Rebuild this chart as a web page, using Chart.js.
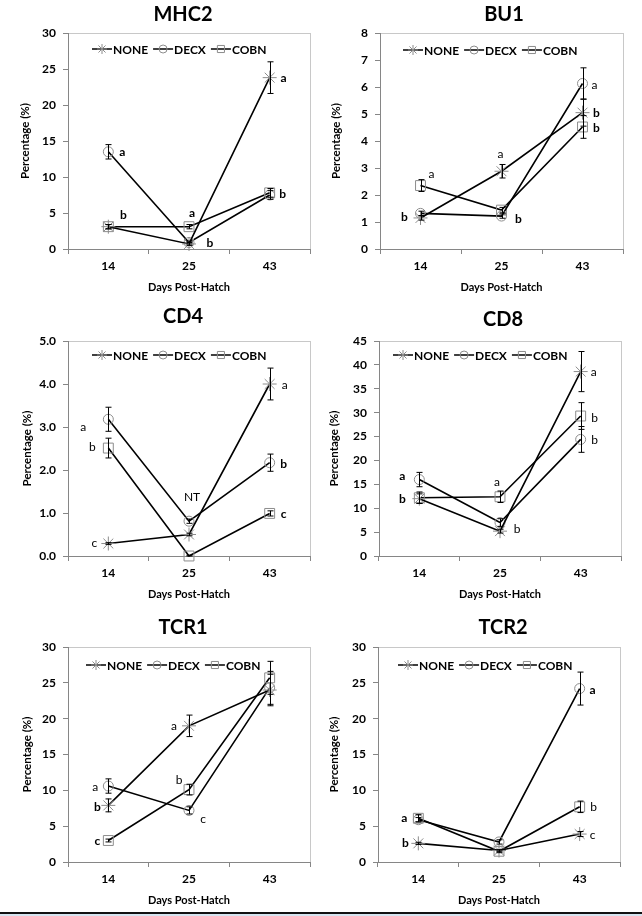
<!DOCTYPE html>
<html>
<head>
<meta charset="utf-8">
<title>Lymphocyte subsets by days post-hatch</title>
<script src="https://cdn.jsdelivr.net/npm/chart.js@4.4.1/dist/chart.umd.min.js"></script>
<style>
  body { margin: 0; background: #fff; }
  #page { position: relative; width: 642px; height: 916px; overflow: hidden; }
  #page canvas { position: absolute; }
  #rule { position: absolute; left: 0; top: 912px; width: 642px; height: 2px; background: #111; }
  #under { position: absolute; left: 0; top: 914px; width: 642px; height: 2px; background: #d6e4f0; }
</style>
</head>
<body>
<div id="page">
  <canvas id="mhc2" width="321" height="300" style="left:0;top:0"></canvas>
  <canvas id="bu1" width="321" height="300" style="left:321px;top:0"></canvas>
  <canvas id="cd4" width="321" height="300" style="left:0;top:300px"></canvas>
  <canvas id="cd8" width="321" height="300" style="left:321px;top:300px"></canvas>
  <canvas id="tcr1" width="321" height="316" style="left:0;top:600px"></canvas>
  <canvas id="tcr2" width="321" height="316" style="left:321px;top:600px"></canvas>
  <div id="rule"></div>
  <div id="under"></div>
</div>
<script>
var days = ['14', '25', '43'];
var groups = ['NONE', 'DECX', 'COBN'];

// values and error bars, one row per group (NONE, DECX, COBN)
var mhc2Values = [[3.1, 0.7, 23.8], [13.5, 0.9, 7.5], [3.1, 3.1, 7.8]];
var mhc2Errors = [[0.3, 0.2, 2.2], [1.0, 0.2, 0.6], [0.3, 0.3, 0.6]];
var bu1Values = [[1.15, 2.88, 5.05], [1.32, 1.22, 6.13], [2.35, 1.44, 4.52]];
var bu1Errors = [[0.08, 0.25, 0.5], [0.08, 0.08, 0.58], [0.22, 0.1, 0.42]];
var cd4Values = [[0.29, 0.5, 4.0], [3.18, 0.81, 2.17], [2.51, 0.0, 0.99]];
var cd4Errors = [[0.02, 0.03, 0.37], [0.28, 0.05, 0.2], [0.23, 0.02, 0.06]];
var cd8Values = [[12.0, 5.2, 38.6], [16.0, 7.0, 24.4], [12.2, 12.4, 29.3]];
var cd8Errors = [[1.0, 0.4, 4.2], [1.5, 0.8, 2.7], [1.2, 1.2, 2.8]];
var tcr1Values = [[7.9, 19.0, 24.0], [10.6, 7.2, 24.3], [3.0, 10.1, 25.7]];
var tcr1Errors = [[0.9, 1.5, 2.2], [1.0, 0.5, 2.3], [0.2, 0.75, 2.3]];
var tcr2Values = [[2.6, 1.6, 3.9], [5.9, 2.8, 24.2], [6.1, 1.5, 7.7]];
var tcr2Errors = [[0.15, 0.1, 0.35], [0.3, 0.3, 2.3], [0.5, 0.2, 0.8]];

// significance letters: text, day index, value where it sits, x shift, bold
var mhc2Letters = [['a', 0, 13.5, 14, 1], ['b', 0, 4.7, 15, 1], ['a', 1, 5.0, 3, 1], ['b', 1, 0.8, 21, 1], ['a', 2, 23.7, 14, 1], ['b', 2, 7.6, 13, 1]];
var bu1Letters = [['a', 0, 2.78, 11, 0], ['b', 0, 1.19, -16, 1], ['a', 1, 3.5, -1, 0], ['b', 1, 1.1, 17, 1], ['a', 2, 6.07, 12, 0], ['b', 2, 5.03, 14, 1], ['b', 2, 4.47, 14, 1]];
var cd4Letters = [['a', 0, 3.0, -25, 0], ['b', 0, 2.53, -16, 0], ['c', 0, 0.3, -14, 0], ['NT', 1, 1.37, 3, 0], ['a', 2, 3.98, 15, 0], ['b', 2, 2.14, 14, 1], ['c', 2, 0.98, 14, 1]];
var cd8Letters = [['a', 0, 16.7, -17, 1], ['b', 0, 11.9, -17, 1], ['a', 1, 15.5, -3, 0], ['b', 1, 5.6, 17, 0], ['a', 2, 38.5, 13, 0], ['b', 2, 28.9, 14, 0], ['b', 2, 24.3, 14, 0]];
var tcr1Letters = [['a', 0, 10.5, -13, 0], ['b', 0, 7.7, -11, 1], ['c', 0, 2.9, -11, 1], ['a', 1, 19.0, -15, 0], ['b', 1, 11.4, -10, 0], ['c', 1, 6.0, 14, 0]];
var tcr2Letters = [['a', 0, 6.1, -14, 1], ['b', 0, 2.6, -13, 1], ['a', 2, 24.0, 13, 1], ['b', 2, 7.7, 14, 0], ['c', 2, 3.8, 13, 0]];

// where each plot sits inside its canvas
var panelLayout = {
    mhc2: { left: 68, right: 310, top: 33, bottom: 249, titleX: 183, titleY: 15, yTitleX: 25, legendX: 24, legendY: 16 },
    bu1:  { left: 59, right: 302, top: 33, bottom: 249, titleX: 183, titleY: 15, yTitleX: 15, legendX: 23, legendY: 17 },
    cd4:  { left: 68, right: 310, top: 41, bottom: 256, titleX: 183, titleY: 17, yTitleX: 27, legendX: 24, legendY: 14 },
    cd8:  { left: 58, right: 300, top: 41, bottom: 256, titleX: 182, titleY: 20, yTitleX: 13, legendX: 14, legendY: 14 },
    tcr1: { left: 68, right: 310, top: 47, bottom: 262, titleX: 183, titleY: 28, yTitleX: 27, legendX: 18, legendY: 18 },
    tcr2: { left: 57, right: 299, top: 47, bottom: 262, titleX: 182, titleY: 28, yTitleX: 13, legendX: 20, legendY: 18 }
};

var FONT = 'Lato, "Open Sans", sans-serif';
var markerStyles = ['star', 'circle', 'rect'];
var markerSizes = [7, 5, 7];
var legendSizes = [5, 4, 5];
var markerColor = '#8c8c8c';
var axisColor = '#868686';

Chart.defaults.font.family = FONT;
Chart.defaults.color = '#000';

var panels = {};

function drawMarker(ctx, style, r, x, y) {
    ctx.save();
    ctx.strokeStyle = markerColor;
    ctx.lineWidth = 1;
    ctx.beginPath();
    if (style === 'circle') {
        ctx.arc(x, y, r, 0, Math.PI * 2);
    } else if (style === 'rect') {
        var s = r * Math.SQRT1_2;
        ctx.rect(x - s, y - s, 2 * s, 2 * s);
    } else {
        for (var k = 0; k < 4; k++) {
            var a = k * Math.PI / 4;
            ctx.moveTo(x + r * Math.cos(a), y + r * Math.sin(a));
            ctx.lineTo(x - r * Math.cos(a), y - r * Math.sin(a));
        }
    }
    ctx.stroke();
    ctx.restore();
}

var extras = {
    id: 'panelExtras',
    beforeDraw: function (chart) {
        var a = chart.chartArea, ctx = chart.ctx;
        ctx.save();
        ctx.strokeStyle = '#c8c8c8';
        ctx.lineWidth = 1;
        ctx.strokeRect(a.left + 0.5, a.top + 0.5, a.right - a.left, a.bottom - a.top);
        ctx.restore();
    },
    afterDatasetsDraw: function (chart) {
        var p = panels[chart.canvas.id];
        var ctx = chart.ctx, yScale = chart.scales.y;
        ctx.save();
        ctx.strokeStyle = '#000';
        ctx.lineWidth = 1;
        p.values.forEach(function (row, i) {
            var meta = chart.getDatasetMeta(i);
            row.forEach(function (v, j) {
                var x = Math.round(meta.data[j].x) + 0.5;
                var top = yScale.getPixelForValue(v + p.errors[i][j]);
                var bot = yScale.getPixelForValue(Math.max(0, v - p.errors[i][j]));
                ctx.beginPath();
                ctx.moveTo(x, top); ctx.lineTo(x, bot);
                ctx.moveTo(x - 3, top); ctx.lineTo(x + 3, top);
                ctx.moveTo(x - 3, bot); ctx.lineTo(x + 3, bot);
                ctx.stroke();
            });
        });
        ctx.restore();
    },
    afterDraw: function (chart) {
        var p = panels[chart.canvas.id];
        var box = p.box, ctx = chart.ctx, a = chart.chartArea;
        var xScale = chart.scales.x, yScale = chart.scales.y;
        ctx.save();
        // title
        ctx.fillStyle = '#000';
        ctx.textAlign = 'center';
        ctx.textBaseline = 'middle';
        ctx.font = 'bold 20px ' + FONT;
        ctx.fillText(p.title, box.titleX, box.titleY);
        // legend inside the plot
        var lx = a.left + box.legendX, ly = a.top + box.legendY;
        ctx.font = 'bold 12px ' + FONT;
        ctx.textAlign = 'left';
        groups.forEach(function (g, i) {
            ctx.strokeStyle = '#000';
            ctx.lineWidth = 1.5;
            ctx.beginPath();
            ctx.moveTo(lx, ly); ctx.lineTo(lx + 20, ly);
            ctx.stroke();
            drawMarker(ctx, markerStyles[i], legendSizes[i], lx + 10, ly);
            ctx.fillText(g, lx + 21, ly + 1);
            lx += 21 + ctx.measureText(g).width + 5;
        });
        // significance letters
        ctx.textAlign = 'center';
        p.letters.forEach(function (l) {
            ctx.font = (l[4] ? 'bold ' : '') + '12px ' + FONT;
            ctx.fillText(l[0], xScale.getPixelForValue(l[1]) + l[3], yScale.getPixelForValue(l[2]));
        });
        ctx.restore();
    }
};

function makePanel(id, title, values, errors, letters, yMax, yStep, decimals) {
    var box = panelLayout[id];
    var canvas = document.getElementById(id);
    var padLeft = box.yTitleX - 6.6;
    var xHeight = 45;
    panels[id] = { title: title, values: values, errors: errors, letters: letters, box: box };

    new Chart(canvas, {
        type: 'line',
        data: {
            labels: days,
            datasets: groups.map(function (g, i) {
                return {
                    label: g,
                    data: values[i],
                    borderColor: '#000',
                    borderWidth: 1.6,
                    tension: 0,
                    pointStyle: markerStyles[i],
                    pointRadius: markerSizes[i],
                    pointBorderColor: markerColor,
                    pointBackgroundColor: 'rgba(0,0,0,0)',
                    pointBorderWidth: 1,
                    clip: false
                };
            })
        },
        options: {
            responsive: false,
            animation: false,
            layout: {
                padding: {
                    left: padLeft,
                    right: canvas.width - box.right,
                    top: box.top,
                    bottom: canvas.height - box.bottom - xHeight
                }
            },
            plugins: {
                legend: { display: false },
                tooltip: { enabled: false }
            },
            scales: {
                x: {
                    offset: true,
                    grid: { offset: true, drawOnChartArea: false, color: axisColor, tickLength: 5 },
                    border: { color: axisColor },
                    ticks: { padding: 5, font: { size: 12, weight: 'bold' } },
                    title: { display: true, text: 'Days Post-Hatch', padding: 0, font: { size: 11, weight: 'bold' } },
                    afterFit: function (s) { s.height = xHeight; }
                },
                y: {
                    min: 0,
                    max: yMax,
                    grid: { drawOnChartArea: false, color: axisColor, tickLength: 5 },
                    border: { color: axisColor },
                    ticks: {
                        stepSize: yStep,
                        padding: 7,
                        font: { size: 12, weight: 'bold' },
                        callback: function (v) { return v.toFixed(decimals); }
                    },
                    title: { display: true, text: 'Percentage (%)', padding: 0, font: { size: 11.5, weight: 'bold' } },
                    afterFit: function (s) { s.width = box.left - padLeft; }
                }
            }
        },
        plugins: [extras]
    });
}

makePanel('mhc2', 'MHC2', mhc2Values, mhc2Errors, mhc2Letters, 30, 5, 0);
makePanel('bu1', 'BU1', bu1Values, bu1Errors, bu1Letters, 8, 1, 0);
makePanel('cd4', 'CD4', cd4Values, cd4Errors, cd4Letters, 5, 1, 1);
makePanel('cd8', 'CD8', cd8Values, cd8Errors, cd8Letters, 45, 5, 0);
makePanel('tcr1', 'TCR1', tcr1Values, tcr1Errors, tcr1Letters, 30, 5, 0);
makePanel('tcr2', 'TCR2', tcr2Values, tcr2Errors, tcr2Letters, 30, 5, 0);
</script>
</body>
</html>
